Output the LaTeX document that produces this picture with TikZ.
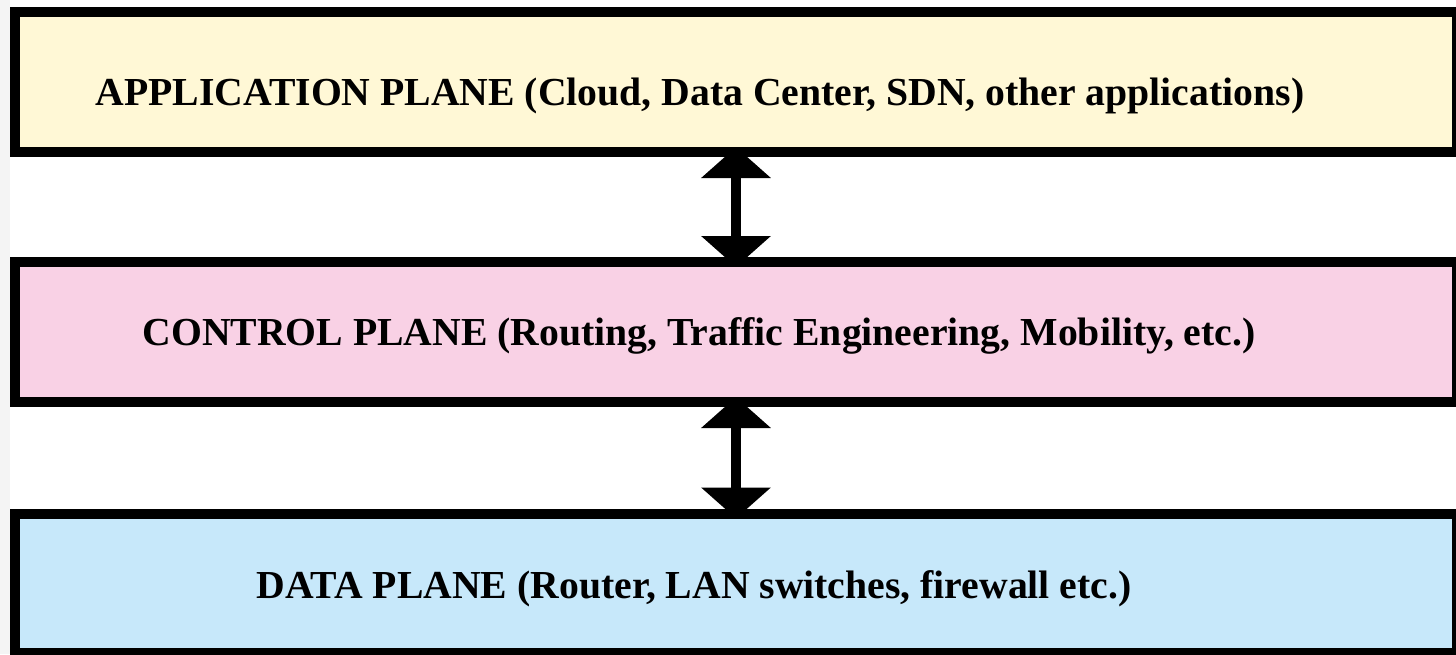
\documentclass[tikz,border=0pt]{standalone}
\usepackage{fontspec}
\setmainfont{Liberation Serif}
\usetikzlibrary{arrows.meta}
\definecolor{appfill}{RGB}{255,248,214}
\definecolor{ctlfill}{RGB}{249,209,229}
\definecolor{datfill}{RGB}{199,232,250}
\definecolor{edgegray}{RGB}{244,244,244}
\tikzset{
  plane/.style={draw=black, line width=10pt, minimum width=1442pt, inner sep=0pt, outer sep=0pt},
  planetext/.style={font=\bfseries\fontsize{39.7}{46}\selectfont, inner sep=0pt, anchor=base},
  dblarrow/.style={line width=10pt, {Triangle[width=68pt,length=31pt]}-{Triangle[width=68pt,length=31pt]}}
}
\begin{document}
\begin{tikzpicture}[x=1pt,y=-1pt]
\useasboundingbox (0,0) rectangle (1456,654);
\fill[white] (0,0) rectangle (1456,654);
\fill[edgegray] (0,0) rectangle (10,654);
\node[plane, fill=appfill, minimum height=140pt] (app) at (736,82) {};
\node[plane, fill=ctlfill, minimum height=140pt] (ctl) at (736,332) {};
\node[plane, fill=datfill, minimum height=139pt] (dat) at (736,583) {};
\node[planetext] (apptext) at (700,105) {APPLICATION PLANE (Cloud, Data Center, SDN, other applications)};
\node[planetext] (ctltext) at (699,345) {CONTROL PLANE (Routing, Traffic Engineering, Mobility, etc.)};
\node[planetext] (dattext) at (694,598) {DATA PLANE (Router, LAN switches, firewall etc.)};
\draw[dblarrow] ([yshift=5pt]app.south) -- ([yshift=-5pt]ctl.north);
\draw[dblarrow] ([yshift=5pt]ctl.south) -- ([yshift=-5pt]dat.north);
\end{tikzpicture}
\end{document}
